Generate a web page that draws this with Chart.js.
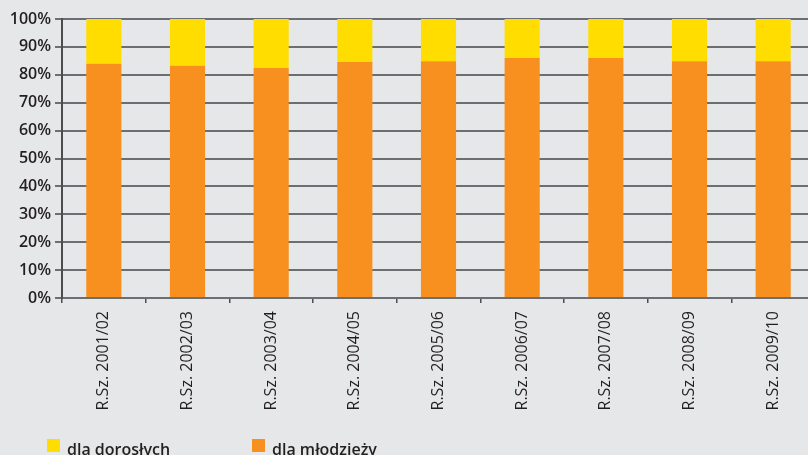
<!DOCTYPE html>
<html>
<head>
<meta charset="utf-8">
<script src="https://cdn.jsdelivr.net/npm/chart.js@4/dist/chart.umd.min.js"></script>
<style>
  html, body { margin: 0; padding: 0; background: #e6e7e8; overflow: hidden; }
  #wrap { width: 815px; height: 455px; }
</style>
</head>
<body>
<div id="wrap"><canvas id="c" width="815" height="455"></canvas></div>
<script>
const categories = ["R.Sz. 2001/02", "R.Sz. 2002/03", "R.Sz. 2003/04", "R.Sz. 2004/05", "R.Sz. 2005/06", "R.Sz. 2006/07", "R.Sz. 2007/08", "R.Sz. 2008/09", "R.Sz. 2009/10"];
const mlodziezy = [84.0, 83.2, 82.4, 84.6, 84.9, 86.0, 86.0, 84.9, 84.9];
const doroslych = [16.0, 16.8, 17.6, 15.4, 15.1, 14.0, 14.0, 15.1, 15.1];
const yTicks = [0, 10, 20, 30, 40, 50, 60, 70, 80, 90, 100];
const labelAdults = "dla dorosłych";
const labelYouth = "dla młodzieży";

const YELLOW = "#FFDD00";
const ORANGE = "#F7901E";
const TEXT = "#231f20";

const bottomLegend = {
  id: "bottomLegend",
  afterDraw(chart) {
    const ctx = chart.ctx;
    ctx.save();
    ctx.font = "600 16px 'Open Sans'";
    ctx.fillStyle = TEXT;
    ctx.textBaseline = "alphabetic";
    const items = [
      { ds: chart.data.datasets[1], x: 47 },
      { ds: chart.data.datasets[0], x: 252 }
    ];
    items.forEach(it => {
      ctx.fillStyle = it.ds.backgroundColor;
      ctx.fillRect(it.x, 439, 13, 13);
      ctx.fillStyle = TEXT;
      ctx.fillText(it.ds.label, it.x + 20, 455);
    });
    ctx.restore();
  }
};

new Chart(document.getElementById("c"), {
  type: "bar",
  data: {
    labels: categories,
    datasets: [
      { label: labelYouth, data: mlodziezy, backgroundColor: ORANGE, borderWidth: 0 },
      { label: labelAdults, data: doroslych, backgroundColor: YELLOW, borderWidth: 0 }
    ]
  },
  options: {
    responsive: false,
    animation: false,
    events: [],
    layout: { padding: { top: 19, left: 0, right: 0, bottom: 0 } },
    datasets: { bar: { categoryPercentage: 1, barPercentage: 0.42 } },
    plugins: { legend: { display: false }, tooltip: { enabled: false } },
    scales: {
      x: {
        stacked: true,
        offset: true,
        afterFit(scale) { scale.height = 157; },
        grid: { offset: true, drawOnChartArea: false, drawTicks: true, tickLength: 5, color: "#4d4d4f", lineWidth: 1.5 },
        border: { display: false },
        ticks: {
          maxRotation: 90, minRotation: 90, autoSkip: false, padding: 8,
          color: TEXT, font: { family: "'Open Sans'", size: 16, weight: "normal" }
        }
      },
      y: {
        stacked: true,
        min: 0, max: 100,
        afterFit(scale) { scale.width = 62; },
        afterBuildTicks(scale) { scale.ticks = yTicks.map(v => ({ value: v })); },
        grid: { color: "#6d6e71", lineWidth: 2, tickLength: 7 },
        border: { color: "#4d4d4f", width: 2 },
        ticks: {
          padding: 4, color: TEXT,
          font: { family: "'Open Sans'", size: 16, weight: "600" },
          callback: v => v + "%"
        }
      }
    }
  },
  plugins: [bottomLegend]
});
</script>
</body>
</html>
